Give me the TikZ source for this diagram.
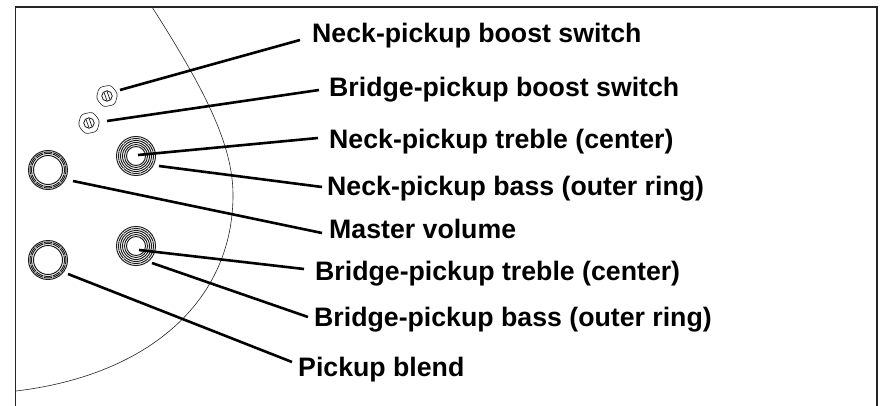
\documentclass[tikz,border=0pt]{standalone}
\usepackage{fontspec}
\setmainfont{Liberation Sans}
\tikzset{
 lab/.style={anchor=base west,font=\fontsize{26.7pt}{30pt}\selectfont\bfseries,inner sep=0pt},
 lead/.style={line width=2.6pt,black},
 frameline/.style={line width=1.8pt,black!85},
 thinline/.style={line width=0.6pt,black!85},
 ring/.style={line width=0.95pt,black!90},
}
\newcommand{\knob}[4]{%
 \begin{scope}[shift={(#1,#2)}]
  \node[circle,inner sep=0pt,minimum size=40pt] (#3) at (0,0) {};
  \foreach \r in {#4}{\draw[ring] (0,0) circle (\r pt);}
  \foreach \a in {15,45,...,345}{\draw[line width=1.2pt,white!70!black] (\a:15.8pt) -- (\a:18.6pt);}
 \end{scope}}
\newcommand{\screw}[4]{%
 \begin{scope}[shift={(#1,#2)},rotate=#4]
  \draw[thinline,rounded corners=3pt] (-11,0) -- (-6,-10) -- (6,-10) -- (11,0) -- (6,10) -- (-6,10) -- cycle;
  \node[circle,draw,line width=0.7pt,inner sep=0pt,minimum size=10.5pt] (#3) at (0,0) {};
  \draw[line width=0.6pt,rotate=8] (-1.6,-4.4) -- (-1.6,4.4) (1.6,-4.4) -- (1.6,4.4);
 \end{scope}}
\begin{document}
\begin{tikzpicture}[x=1pt,y=-1pt]
\useasboundingbox (0,0) rectangle (880,406);
\fill[white] (0,0) rectangle (880,406);
\coordinate (tl) at (15.5,7); \coordinate (tr) at (877,7);
\coordinate (bl) at (15.5,406); \coordinate (br) at (877,406);
\draw[frameline] (bl) -- (tl) -- (tr) -- (br);
\coordinate (cs) at (152,7); \coordinate (ce) at (16,391);
\draw[thinline] (cs) .. controls (205,90) and (233,145) .. (233,195)
  .. controls (233,300) and (150,375) .. (ce);
\screw{107}{96}{sa}{12}
\screw{89}{123}{sb}{12}
\knob{136}{156}{ka}{9.5,11.5,13.5,15.5,17.5,19.5}
\knob{48}{170}{kb}{14.5,16.5,18,19.5}
\knob{136}{246}{kc}{9.5,11.5,13.5,15.5,17.5,19.5}
\knob{48}{260}{kd}{14.5,16.5,18,19.5}
\node[lab] (la) at (312,43) {Neck-pickup boost switch};
\node[lab] (lb) at (329,97) {Bridge-pickup boost switch};
\node[lab] (lc) at (329,149) {Neck-pickup treble (center)};
\node[lab] (ld) at (327,196) {Neck-pickup bass (outer ring)};
\node[lab] (le) at (329,238) {Master volume};
\node[lab] (lf) at (315,280) {Bridge-pickup treble (center)};
\node[lab] (lg) at (314,326) {Bridge-pickup bass (outer ring)};
\node[lab] (lh) at (298,376) {Pickup blend};
\coordinate (a1) at (120,90); \coordinate (a2) at (300,40);
\coordinate (b1) at (107,121); \coordinate (b2) at (319,90);
\coordinate (c1) at (138,155); \coordinate (c2) at (318,138);
\coordinate (d1) at (159,166); \coordinate (d2) at (322,187);
\coordinate (e1) at (73,181); \coordinate (e2) at (322,233);
\coordinate (f1) at (139,250); \coordinate (f2) at (304,269);
\coordinate (g1) at (152,263); \coordinate (g2) at (308,317);
\coordinate (h1) at (68,274); \coordinate (h2) at (292,362);
\foreach \p in {a,b,c,d,e,f,g,h}{\draw[lead] (\p1) -- (\p2);}
\end{tikzpicture}
\end{document}
